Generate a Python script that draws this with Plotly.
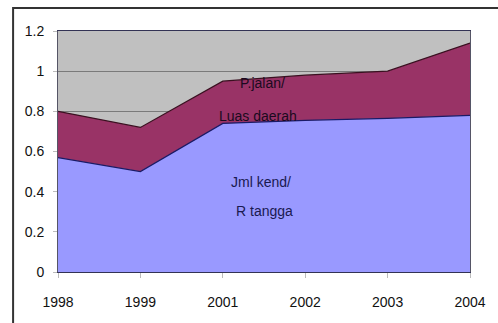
import plotly.graph_objects as go

years = ["1998", "1999", "2001", "2002", "2003", "2004"]
jml_kend = [0.57, 0.50, 0.74, 0.755, 0.765, 0.78]
pjalan_total = [0.80, 0.72, 0.95, 0.98, 1.00, 1.14]
pjalan = [round(t - b, 3) for t, b in zip(pjalan_total, jml_kend)]
y_ticks = [0, 0.2, 0.4, 0.6, 0.8, 1, 1.2]
y_ticktext = ["0", "0.2", "0.4", "0.6", "0.8", "1", "1.2"]

xs = list(range(len(years)))
font_family = "Liberation Sans Narrow, Arial Narrow, Liberation Sans, Arial, sans-serif"

fig = go.Figure()
fig.add_trace(go.Scatter(
    x=xs, y=jml_kend, stackgroup="one", mode="lines",
    line=dict(color="#1a1a66", width=1.2), fillcolor="#9999ff",
    name="Jml kend/R tangga"))
fig.add_trace(go.Scatter(
    x=xs, y=pjalan, stackgroup="one", mode="lines",
    line=dict(color="#3a1020", width=1.2), fillcolor="#993366",
    name="P.jalan/Luas daerah"))

ann_font = dict(family=font_family, size=14, color="#1a0a20")
blue_font = dict(family=font_family, size=14, color="#1a1a50")
fig.add_annotation(x=2.48, y=0.94, text="P.jalan/", showarrow=False, font=ann_font)
fig.add_annotation(x=2.43, y=0.776, text="Luas daerah", showarrow=False, font=ann_font)
fig.add_annotation(x=2.46, y=0.448, text="Jml kend/", showarrow=False, font=blue_font)
fig.add_annotation(x=2.50, y=0.303, text="R tangga", showarrow=False, font=blue_font)

# outer chart border
fig.add_shape(type="rect", xref="paper", yref="paper",
              x0=-0.109, x1=1.2, y0=-0.5, y1=1.095,
              line=dict(color="#333333", width=2), layer="below")

fig.update_layout(
    width=498, height=323,
    margin=dict(l=58, r=17, t=31, b=51),
    paper_bgcolor="white",
    plot_bgcolor="#c0c0c0",
    showlegend=False,
    font=dict(family=font_family, size=14, color="#111111"),
    xaxis=dict(
        range=[0, 5], tickvals=xs, ticktext=years, showgrid=False,
        zeroline=False, ticks="outside", ticklen=5, tickcolor="#bbbbbb",
        ticklabelstandoff=12,
        showline=True, linecolor="#333355", linewidth=1, mirror=True,
        tickfont=dict(family=font_family, size=14, color="#111111"),
    ),
    yaxis=dict(
        range=[0, 1.2], tickvals=y_ticks, ticktext=y_ticktext,
        showgrid=True, gridcolor="#7a7a7a", gridwidth=1, zeroline=False,
        ticks="outside", ticklen=4, tickcolor="#bbbbbb",
        ticklabelstandoff=6,
        showline=True, linecolor="#555566", linewidth=1, mirror=True,
        tickfont=dict(family=font_family, size=14, color="#111111"),
    ),
)

fig.write_html("out.html")
